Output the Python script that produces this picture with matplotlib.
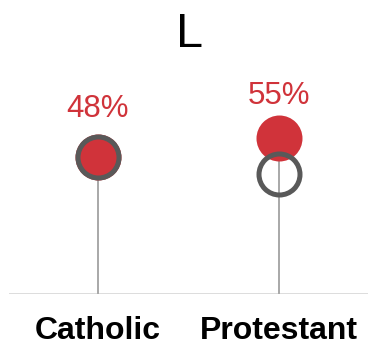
import numpy as np
import matplotlib
matplotlib.use("Agg")
import matplotlib.pyplot as plt

plt.rcParams['font.family'] = ['Liberation Sans', 'DejaVu Sans']

# data
categories = ['Catholic', 'Protestant']
red_values = [48, 55]      # labelled share
grey_values = [48, 42]     # comparison ring
label_text = ['48%', '55%']
label_offset_px = [40, 34]  # how far the label baseline sits above the dot

red = '#d0333a'
ring = '#595959'

fig = plt.figure(figsize=(3.68, 3.45), dpi=100)
ax = fig.add_axes([9 / 368, (345 - 293.5) / 345, 1 - 9 / 368, 293.5 / 345])

x = np.arange(len(categories))
px2pt = 72 / fig.dpi

# stems
for i in range(len(categories)):
    top = max(red_values[i], grey_values[i])
    ax.plot([x[i], x[i]], [0, top], color='#aaaaaa', lw=2 * px2pt,
            zorder=1, solid_capstyle='butt')

# baseline
ax.axhline(0, color='#dddddd', lw=2 * px2pt, zorder=0)

# red dots then grey rings on top
ax.plot(x, red_values, 'o', ms=46 * px2pt, color=red, mec='none',
        zorder=2, clip_on=False)
ax.plot(x, grey_values, 'o', ms=41 * px2pt, mfc='none', mec=ring,
        mew=5 * px2pt, zorder=3, clip_on=False)

for i in range(len(categories)):
    ax.annotate(label_text[i], (x[i], red_values[i]),
                xytext=(0, label_offset_px[i] * px2pt), textcoords='offset points',
                ha='center', va='baseline', fontsize=22.5, color=red)

ax.set_xlim(-0.49, 1.49)
ax.set_ylim(0, 293.5 / 2.836)
ax.set_xticks(x)
ax.set_xticklabels(categories, fontsize=23, fontweight='bold')
ax.tick_params(axis='x', length=0, pad=16)
ax.set_yticks([])
for s in ax.spines.values():
    s.set_visible(False)

fig.text(190 / 368, 1 - 47 / 345, 'L', ha='center', va='baseline', fontsize=35)

fig.savefig('out.png', dpi=100)
